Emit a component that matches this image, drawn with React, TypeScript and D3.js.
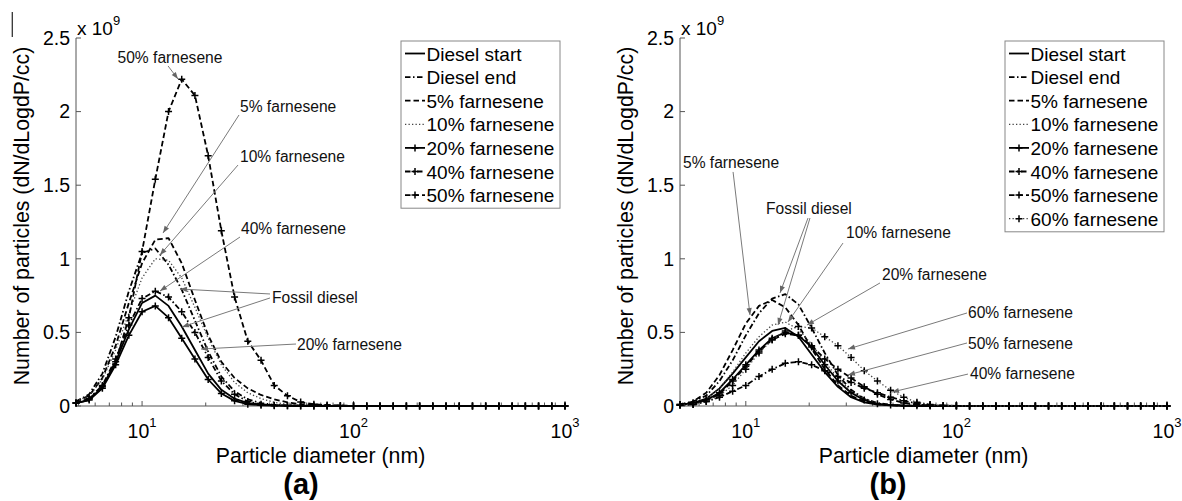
import React from 'react';
import * as d3 from 'd3';

// Particle size bins (nm), 16 channels per decade
const DIAMETER_NM = [4.87, 5.62, 6.49, 7.5, 8.66, 10.0, 11.55, 13.34, 15.4, 17.78, 20.54, 23.71, 27.38, 31.62, 36.52, 42.17, 48.7, 56.23, 64.94, 74.99, 86.6, 100.0, 115.5, 133.4, 154.0, 177.8, 205.4, 237.1, 273.8, 316.2, 365.2, 421.7, 487.0, 562.3, 649.4, 749.9, 866.0, 1000.0];

// Panel (a): dN/dLogdP in units of 1e9 particles/cc
const DIESEL_START_A = [0.02, 0.04, 0.13, 0.3, 0.52, 0.7, 0.75, 0.68, 0.54, 0.38, 0.22, 0.11, 0.05, 0.02, 0.01, 0.005, 0.003, 0.002, 0.001, 0.001, 0, 0, 0, 0, 0, 0, 0, 0, 0, 0, 0, 0, 0, 0, 0, 0, 0, 0];
const DIESEL_END_A = [0.03, 0.08, 0.22, 0.47, 0.78, 1.04, 1.07, 0.96, 0.79, 0.58, 0.37, 0.2, 0.1, 0.045, 0.02, 0.008, 0.004, 0.002, 0.001, 0, 0, 0, 0, 0, 0, 0, 0, 0, 0, 0, 0, 0, 0, 0, 0, 0, 0, 0];
const FARNESENE_5_A = [0.03, 0.07, 0.19, 0.41, 0.7, 0.97, 1.13, 1.14, 0.97, 0.72, 0.48, 0.3, 0.19, 0.12, 0.075, 0.045, 0.025, 0.012, 0.006, 0.003, 0.002, 0.001, 0, 0, 0, 0, 0, 0, 0, 0, 0, 0, 0, 0, 0, 0, 0, 0];
const FARNESENE_10_A = [0.03, 0.07, 0.18, 0.38, 0.63, 0.87, 1.0, 0.99, 0.87, 0.67, 0.46, 0.28, 0.16, 0.09, 0.05, 0.025, 0.012, 0.006, 0.003, 0.001, 0, 0, 0, 0, 0, 0, 0, 0, 0, 0, 0, 0, 0, 0, 0, 0, 0, 0];
const FARNESENE_20_A = [0.02, 0.04, 0.12, 0.28, 0.48, 0.64, 0.68, 0.6, 0.46, 0.32, 0.18, 0.085, 0.035, 0.012, 0.005, 0.002, 0.001, 0, 0, 0, 0, 0, 0, 0, 0, 0, 0, 0, 0, 0, 0, 0, 0, 0, 0, 0, 0, 0];
const FARNESENE_40_A = [0.02, 0.05, 0.14, 0.32, 0.55, 0.73, 0.78, 0.74, 0.64, 0.5, 0.33, 0.17, 0.08, 0.03, 0.012, 0.005, 0.002, 0.001, 0, 0, 0, 0, 0, 0, 0, 0, 0, 0, 0, 0, 0, 0, 0, 0, 0, 0, 0, 0];
const FARNESENE_50_A = [0.02, 0.05, 0.13, 0.3, 0.6, 1.05, 1.54, 2.0, 2.22, 2.11, 1.7, 1.19, 0.74, 0.44, 0.31, 0.14, 0.07, 0.027, 0.012, 0.006, 0.003, 0.001, 0, 0, 0, 0, 0, 0, 0, 0, 0, 0, 0, 0, 0, 0, 0, 0];

// Panel (b)
const DIESEL_START_B = [0.01, 0.02, 0.05, 0.12, 0.22, 0.33, 0.44, 0.51, 0.53, 0.47, 0.35, 0.23, 0.13, 0.06, 0.025, 0.01, 0.005, 0.002, 0.001, 0, 0, 0, 0, 0, 0, 0, 0, 0, 0, 0, 0, 0, 0, 0, 0, 0, 0, 0];
const DIESEL_END_B = [0.01, 0.03, 0.07, 0.17, 0.31, 0.48, 0.63, 0.73, 0.76, 0.69, 0.53, 0.36, 0.21, 0.11, 0.05, 0.02, 0.008, 0.003, 0.001, 0, 0, 0, 0, 0, 0, 0, 0, 0, 0, 0, 0, 0, 0, 0, 0, 0, 0, 0];
const FARNESENE_5_B = [0.01, 0.03, 0.09, 0.21, 0.38, 0.56, 0.68, 0.72, 0.67, 0.55, 0.39, 0.25, 0.14, 0.07, 0.03, 0.012, 0.005, 0.002, 0.001, 0, 0, 0, 0, 0, 0, 0, 0, 0, 0, 0, 0, 0, 0, 0, 0, 0, 0, 0];
const FARNESENE_10_B = [0.01, 0.02, 0.05, 0.12, 0.23, 0.36, 0.47, 0.55, 0.57, 0.52, 0.42, 0.3, 0.19, 0.1, 0.05, 0.02, 0.008, 0.003, 0.001, 0, 0, 0, 0, 0, 0, 0, 0, 0, 0, 0, 0, 0, 0, 0, 0, 0, 0, 0];
const FARNESENE_20_B = [0.01, 0.02, 0.04, 0.09, 0.18, 0.28, 0.38, 0.46, 0.5, 0.48, 0.4, 0.28, 0.17, 0.09, 0.04, 0.015, 0.006, 0.002, 0.001, 0, 0, 0, 0, 0, 0, 0, 0, 0, 0, 0, 0, 0, 0, 0, 0, 0, 0, 0];
const FARNESENE_40_B = [0.005, 0.01, 0.03, 0.06, 0.1, 0.14, 0.2, 0.25, 0.29, 0.3, 0.28, 0.24, 0.2, 0.16, 0.12, 0.09, 0.06, 0.035, 0.018, 0.008, 0.003, 0.001, 0, 0, 0, 0, 0, 0, 0, 0, 0, 0, 0, 0, 0, 0, 0, 0];
const FARNESENE_50_B = [0.01, 0.02, 0.04, 0.08, 0.17, 0.27, 0.37, 0.45, 0.49, 0.48, 0.41, 0.32, 0.25, 0.19, 0.13, 0.08, 0.045, 0.02, 0.01, 0.005, 0.002, 0.001, 0, 0, 0, 0, 0, 0, 0, 0, 0, 0, 0, 0, 0, 0, 0, 0];
const FARNESENE_60_B = [0.005, 0.01, 0.03, 0.07, 0.14, 0.25, 0.36, 0.45, 0.51, 0.54, 0.53, 0.47, 0.41, 0.33, 0.24, 0.17, 0.107, 0.06, 0.025, 0.01, 0.004, 0.002, 0, 0, 0, 0, 0, 0, 0, 0, 0, 0, 0, 0, 0, 0, 0, 0];

const Y_TICKS = [0, 0.5, 1, 1.5, 2, 2.5];
const Y_TICK_LABELS = ['0', '0.5', '1', '1.5', '2', '2.5'];
const X_MAJOR_TICKS = [10, 100, 1000];
const X_MAJOR_EXPONENTS = ['1', '2', '3'];

type LineStyle = 'solid' | 'dashed' | 'dashdot' | 'dotted';

interface Series {
  name: string;
  values: number[];
  style: LineStyle;
  marker: boolean;
}

const SERIES_A: Series[] = [
  { name: 'Diesel start', values: DIESEL_START_A, style: 'solid', marker: false },
  { name: 'Diesel end', values: DIESEL_END_A, style: 'dashdot', marker: false },
  { name: '5% farnesene', values: FARNESENE_5_A, style: 'dashed', marker: false },
  { name: '10% farnesene', values: FARNESENE_10_A, style: 'dotted', marker: false },
  { name: '20% farnesene', values: FARNESENE_20_A, style: 'solid', marker: true },
  { name: '40% farnesene', values: FARNESENE_40_A, style: 'dashdot', marker: true },
  { name: '50% farnesene', values: FARNESENE_50_A, style: 'dashed', marker: true },
];

const SERIES_B: Series[] = [
  { name: 'Diesel start', values: DIESEL_START_B, style: 'solid', marker: false },
  { name: 'Diesel end', values: DIESEL_END_B, style: 'dashdot', marker: false },
  { name: '5% farnesene', values: FARNESENE_5_B, style: 'dashed', marker: false },
  { name: '10% farnesene', values: FARNESENE_10_B, style: 'dotted', marker: false },
  { name: '20% farnesene', values: FARNESENE_20_B, style: 'solid', marker: true },
  { name: '40% farnesene', values: FARNESENE_40_B, style: 'dashdot', marker: true },
  { name: '50% farnesene', values: FARNESENE_50_B, style: 'dashed', marker: true },
  { name: '60% farnesene', values: FARNESENE_60_B, style: 'dotted', marker: true },
];

// Callouts: label position and arrow segments, all in data coordinates (nm, 1e9)
interface Callout {
  label: string;
  at: [number, number];
  anchor: 'start' | 'middle';
  arrows: [[number, number], [number, number]][];
}

const CALLOUTS_A: Callout[] = [
  { label: '50% farnesene', at: [13.55, 2.364], anchor: 'middle', arrows: [[[13.27, 2.31], [14.79, 2.221]]] },
  { label: '5% farnesene', at: [29.05, 2.031], anchor: 'start', arrows: [[[28.73, 1.977], [12.56, 1.175]]] },
  { label: '10% farnesene', at: [29.05, 1.692], anchor: 'start', arrows: [[[28.42, 1.637], [12.15, 1.026]]] },
  { label: '40% farnesene', at: [29.37, 1.202], anchor: 'start', arrows: [[[29.05, 1.148], [12.15, 0.781]]] },
  { label: 'Fossil diesel', at: [41.16, 0.734], anchor: 'start', arrows: [[[40.27, 0.761], [15.11, 0.795]], [[40.27, 0.734], [15.45, 0.537]]] },
  { label: '20% farnesene', at: [54.02, 0.414], anchor: 'start', arrows: [[[53.45, 0.421], [18.99, 0.387]]] },
];

const CALLOUTS_B: Callout[] = [
  { label: '5% farnesene', at: [5.03, 1.651], anchor: 'start', arrows: [[[8.7, 1.59], [10.47, 0.618]]] },
  { label: 'Fossil diesel', at: [12.47, 1.338], anchor: 'start', arrows: [[[19.74, 1.277], [14.53, 0.768]], [[20.17, 1.277], [14.22, 0.55]]] },
  { label: '10% farnesene', at: [29.9, 1.175], anchor: 'start', arrows: [[[28.94, 1.107], [15.86, 0.571]]] },
  { label: '20% farnesene', at: [44.33, 0.89], anchor: 'start', arrows: [[[43.37, 0.836], [19.52, 0.55]]] },
  { label: '60% farnesene', at: [113.5, 0.632], anchor: 'start', arrows: [[[112.3, 0.632], [30.56, 0.387]]] },
  { label: '50% farnesene', at: [113.5, 0.421], anchor: 'start', arrows: [[[112.3, 0.428], [30.56, 0.211]]] },
  { label: '40% farnesene', at: [116, 0.217], anchor: 'start', arrows: [[[113.5, 0.217], [49.45, 0.095]]] },
];

const FONT = "'Liberation Sans', Arial, Helvetica, sans-serif";

const DASH: Record<LineStyle, string | undefined> = {
  solid: undefined,
  dashed: '5.5,3',
  dashdot: '5.5,2.5,1.5,2.5',
  dotted: '1.3,2.2',
};

function strokeFor(style: LineStyle) {
  return style === 'dotted' ? { stroke: '#444', width: 1.3 } : { stroke: '#000', width: 1.8 };
}

function plusPath(x: number, y: number, r: number) {
  return `M${x - r},${y}H${x + r}M${x},${y - r}V${y + r}`;
}

interface PanelProps {
  left: number;
  right: number;
  series: Series[];
  callouts: Callout[];
  legendLeft: number;
  letter: string;
  letterX: number;
}

const TOP = 38;
const BOTTOM = 406;

function Panel({ left, right, series, callouts, legendLeft, letter, letterX }: PanelProps) {
  const x = d3.scaleLog().domain([DIAMETER_NM[0], 1000]).range([left, right]);
  const y = d3.scaleLinear().domain([0, 2.5]).range([BOTTOM, TOP]);
  const line = d3
    .line<number>()
    .x((_, i) => x(DIAMETER_NM[i]))
    .y((v) => y(v));

  const minorTicks: number[] = [];
  [1, 10, 100].forEach((dec) => {
    for (let m = 2; m <= 9; m++) {
      const t = dec * m;
      if (t >= DIAMETER_NM[0] && t < 1000 && !X_MAJOR_TICKS.includes(t)) minorTicks.push(t);
    }
  });

  const rowH = 23.6;
  const legendTop = 41;
  const legendW = 159;
  const legendH = series.length * rowH + 2;

  const arrowHead = (sx: number, sy: number, ex: number, ey: number) => {
    const a = Math.atan2(ey - sy, ex - sx);
    const len = 7;
    const hw = 2.6;
    const bx = ex - len * Math.cos(a);
    const by = ey - len * Math.sin(a);
    const px = -Math.sin(a) * hw;
    const py = Math.cos(a) * hw;
    return `M${ex},${ey}L${bx + px},${by + py}L${bx - px},${by - py}Z`;
  };

  return (
    <g>
      {/* axes */}
      <line x1={left} x2={left} y1={BOTTOM} y2={TOP} stroke="#555" strokeWidth={1} />
      <line x1={left} x2={right} y1={BOTTOM} y2={BOTTOM} stroke="#555" strokeWidth={1} />
      {Y_TICKS.map((t, i) => (
        <g key={`yt${i}`}>
          <line x1={left} x2={left + 5} y1={y(t)} y2={y(t)} stroke="#555" />
          <text x={left - 6} y={y(t) + 6.8} textAnchor="end" fontSize={19.5} fontFamily={FONT} fill="#000">
            {Y_TICK_LABELS[i]}
          </text>
        </g>
      ))}
      <text x={left + 1} y={35} fontSize={19} fontFamily={FONT} fill="#000">
        x 10
        <tspan dy={-10} fontSize={13}>9</tspan>
      </text>
      {X_MAJOR_TICKS.map((t, i) => (
        <g key={`xt${i}`}>
          <line x1={x(t)} x2={x(t)} y1={BOTTOM} y2={BOTTOM - 5} stroke="#555" />
          <text x={x(t)} y={438} textAnchor="middle" fontSize={19.5} fontFamily={FONT} fill="#000">
            10
            <tspan dy={-11} fontSize={13}>{X_MAJOR_EXPONENTS[i]}</tspan>
          </text>
        </g>
      ))}
      {minorTicks.map((t) => (
        <line key={`mt${t}`} x1={x(t)} x2={x(t)} y1={BOTTOM} y2={BOTTOM - 3.5} stroke="#555" />
      ))}
      <text x={(left + right) / 2} y={463} textAnchor="middle" fontSize={21.3} fontFamily={FONT} fill="#000">
        Particle diameter (nm)
      </text>
      <text
        transform={`translate(${left - 47.5},${216}) rotate(-90)`}
        textAnchor="middle"
        fontSize={21.3}
        fontFamily={FONT}
        fill="#000"
      >
        Number of particles (dN/dLogdP/cc)
      </text>
      <text x={letterX} y={494} textAnchor="middle" fontSize={29} fontWeight="bold" fontFamily={FONT} fill="#000">
        {letter}
      </text>

      {/* curves */}
      {series.map((s) => {
        const st = strokeFor(s.style);
        return (
          <g key={s.name}>
            <path
              d={line(s.values) ?? ''}
              fill="none"
              stroke={st.stroke}
              strokeWidth={st.width}
              strokeDasharray={DASH[s.style]}
              strokeLinejoin="round"
            />
            {s.marker &&
              s.values.map((v, i) => (
                <path key={i} d={plusPath(x(DIAMETER_NM[i]), y(v), 3.5)} stroke="#000" strokeWidth={1.5} fill="none" />
              ))}
          </g>
        );
      })}

      {/* callouts */}
      {callouts.map((c) => (
        <g key={c.label}>
          {c.arrows.map(([s, e], i) => {
            const sx = x(s[0]);
            const sy = y(s[1]);
            const ex = x(e[0]);
            const ey = y(e[1]);
            return (
              <g key={i}>
                <line x1={sx} y1={sy} x2={ex} y2={ey} stroke="#7a7a7a" strokeWidth={1} />
                <path d={arrowHead(sx, sy, ex, ey)} fill="#666" />
              </g>
            );
          })}
          <text
            x={x(c.at[0])}
            y={y(c.at[1]) + 5.4}
            textAnchor={c.anchor}
            fontSize={15.6}
            fontFamily={FONT}
            fill="#111"
          >
            {c.label}
          </text>
        </g>
      ))}

      {/* legend */}
      <rect x={legendLeft} y={legendTop} width={legendW} height={legendH} fill="#fff" stroke="#888" strokeWidth={1} />
      {series.map((s, i) => {
        const cy = legendTop + 12.5 + i * rowH;
        const st = strokeFor(s.style);
        const x0 = legendLeft + 4;
        const x1 = legendLeft + 24;
        return (
          <g key={`lg${s.name}`}>
            <line
              x1={x0}
              x2={x1}
              y1={cy}
              y2={cy}
              stroke={st.stroke}
              strokeWidth={st.width}
              strokeDasharray={DASH[s.style]}
            />
            {s.marker && <path d={plusPath((x0 + x1) / 2, cy, 3.5)} stroke="#000" strokeWidth={1.5} />}
            <text x={legendLeft + 25.5} y={cy + 7} fontSize={19} fontFamily={FONT} fill="#000">
              {s.name}
            </text>
          </g>
        );
      })}
    </g>
  );
}

export default function App() {
  return (
    <svg
      width={1182}
      height={501}
      viewBox="0 0 1182 501"
      style={{ position: 'absolute', left: 0, top: 0, background: '#fff' }}
    >
      <rect x={0} y={0} width={1182} height={501} fill="#fff" />
      {/* short rule left of the left panel's axis title */}
      <line x1={12.3} x2={12.3} y1={12} y2={37} stroke="#333" strokeWidth={1.3} />
      <Panel left={76} right={565} series={SERIES_A} callouts={CALLOUTS_A} legendLeft={401} letter="(a)" letterX={301} />
      <Panel left={680} right={1167} series={SERIES_B} callouts={CALLOUTS_B} legendLeft={1005} letter="(b)" letterX={888} />
    </svg>
  );
}
